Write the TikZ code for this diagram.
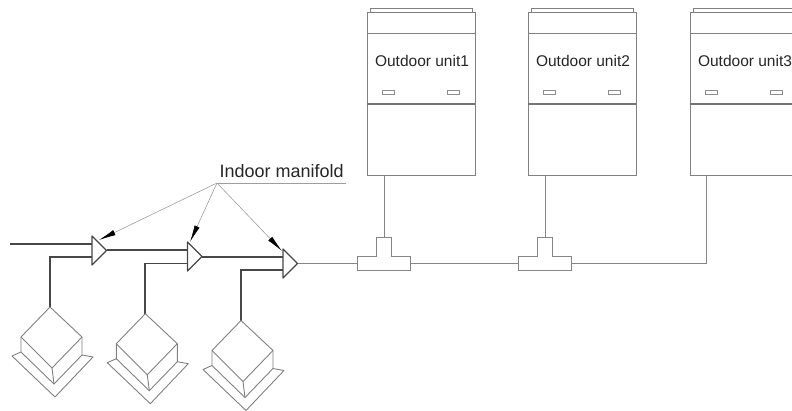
\documentclass[tikz,border=0pt]{standalone}
\usepackage{fontspec}
\setmainfont{Liberation Sans}
\usetikzlibrary{arrows.meta}
\tikzset{
	unitline/.style={line width=0.9pt, color=black!50},
	thinpipe/.style={line width=0.9pt, color=black!48},
	thickpipe/.style={line width=1.5pt, color=black!72},
	leader/.style={line width=0.6pt, color=black!38},
	pointer/.style={leader, -{Latex[length=17pt,width=5.5pt,color=black]}},
	unitlabel/.style={font=\fontsize{15.5}{18}\selectfont, text=black!85, inner sep=0pt},
	manlabelstyle/.style={font=\fontsize{18}{20}\selectfont, text=black!85, inner sep=0pt},
}
% outdoor unit, from its left edge
\def\outdoorunit(#1)[#2]#3{
	\draw[unitline] (#1+3, 12) -- (#1+3, 8.5) -- (#1+105, 8.5) -- (#1+105, 12);
	\draw[unitline, fill=white] (#1, 175) rectangle (#1+108, 12);
	\draw[unitline] (#1, 33) -- (#1+108, 33);
	\draw[line width=1.3pt, color=black!55] (#1, 104) -- (#1+108, 104);
	\draw[line width=0.7pt, color=black!45] (#1+15, 90.5) rectangle (#1+27, 94);
	\draw[line width=0.7pt, color=black!45] (#1+80, 90.5) rectangle (#1+92, 94);
	\node[unitlabel] (#2) at (#1+55, 61) {#3};
}
% indoor unit, from the top corner of its box
\def\indoorunit(#1,#2){
	\draw[unitline, line join=round] (#1, #2) -- (#1+32, #2+30) -- (#1+2, #2+61) -- (#1-29, #2+30) -- cycle;
	\draw[unitline] (#1-29, #2+30) -- (#1-29, #2+45) -- (#1+4, #2+77) -- (#1+32, #2+48) -- (#1+32, #2+30);
	\draw[unitline] (#1+2, #2+61) -- (#1+4, #2+77);
	\draw[unitline, line join=round] (#1-29, #2+45) -- (#1-38, #2+49) -- (#1+5, #2+90) -- (#1+43, #2+50) -- (#1+32, #2+48);
}
% tee fitting, from the left end of its bar
\def\teefitting(#1){
	\draw[thinpipe, fill=white] (#1, 256) -- (#1+19, 256) -- (#1+19, 237) -- (#1+34, 237) -- (#1+34, 256) -- (#1+53, 256) -- (#1+53, 270) -- (#1, 270) -- cycle;
}
% manifold, from the middle of its flat side
\def\manifold(#1,#2){
	\draw[line width=1.2pt, color=black!72, fill=white, line join=round] (#1, #2-14.5) -- (#1+14.5, #2) -- (#1, #2+14.5) -- cycle;
}

\begin{document}
\begin{tikzpicture}[x=1pt, y=-1pt]
	%%%%% START %%%%%
	\useasboundingbox (0, 0) rectangle (792, 410);
	\clip (0, 0) rectangle (792, 410);

	\coordinate (unit1out) at (384, 175);
	\coordinate (unit2out) at (545, 175);
	\coordinate (unit3out) at (706, 175);
	\coordinate (tee1top) at (384, 237);
	\coordinate (tee2top) at (545, 237);
	\coordinate (tee1left) at (357, 263);
	\coordinate (tee1right) at (410, 263);
	\coordinate (tee2left) at (518, 263);
	\coordinate (tee2right) at (572, 263);
	\coordinate (unit3corner) at (706, 263);

	\coordinate (mainstart) at (10, 243.8);
	\coordinate (man1a) at (92, 243.8);
	\coordinate (man1b) at (92, 257);
	\coordinate (man1tip) at (106.5, 250);
	\coordinate (man2a) at (187.5, 250);
	\coordinate (man2b) at (187.5, 263.5);
	\coordinate (man2tip) at (202, 257);
	\coordinate (man3a) at (283, 257);
	\coordinate (man3b) at (283, 270);
	\coordinate (man3tip) at (297.5, 263);

	\coordinate (ind1top) at (50, 307);
	\coordinate (ind2top) at (145, 314);
	\coordinate (ind3top) at (241, 321);

	% outdoor side
	\outdoorunit(367)[unit1]{Outdoor unit1}
	\outdoorunit(528)[unit2]{Outdoor unit2}
	\outdoorunit(690)[unit3]{Outdoor unit3}

	\draw[thinpipe] (unit1out) -- (tee1top);
	\draw[thinpipe] (unit2out) -- (tee2top);
	\draw[thinpipe] (man3tip) -- (tee1left);
	\draw[thinpipe] (tee1right) -- (tee2left);
	\draw[thinpipe] (tee2right) -- (unit3corner) -- (unit3out);
	\teefitting(357)
	\teefitting(518)

	% indoor side
	\draw[thickpipe] (mainstart) -- (man1a);
	\draw[thickpipe] (man1tip) -- (man2a);
	\draw[thickpipe] (man2tip) -- (man3a);
	\draw[thickpipe] (ind1top) |- (man1b);
	\draw[thickpipe] (ind2top) |- (man2b);
	\draw[thickpipe] (ind3top) |- (man3b);

	\manifold(92, 250.5)
	\manifold(187.5, 256.5)
	\manifold(283, 263.5)

	\indoorunit(50, 307)
	\indoorunit(145.3, 313.7)
	\indoorunit(241, 320.5)

	% label with its leaders
	\node[manlabelstyle, anchor=base west] (manlabel) at (219.5, 177) {Indoor manifold};
	\coordinate (apex) at (217, 183);
	\coordinate (underend) at (346, 183);
	\coordinate (arrow1) at (99, 240);
	\coordinate (arrow2) at (190, 242);
	\coordinate (arrow3) at (282, 251);
	\draw[leader] (apex) -- (underend);
	\draw[pointer] (apex) -- (arrow1);
	\draw[pointer] (apex) -- (arrow2);
	\draw[pointer] (apex) -- (arrow3);
	%%%%% END %%%%%
\end{tikzpicture}
\end{document}
